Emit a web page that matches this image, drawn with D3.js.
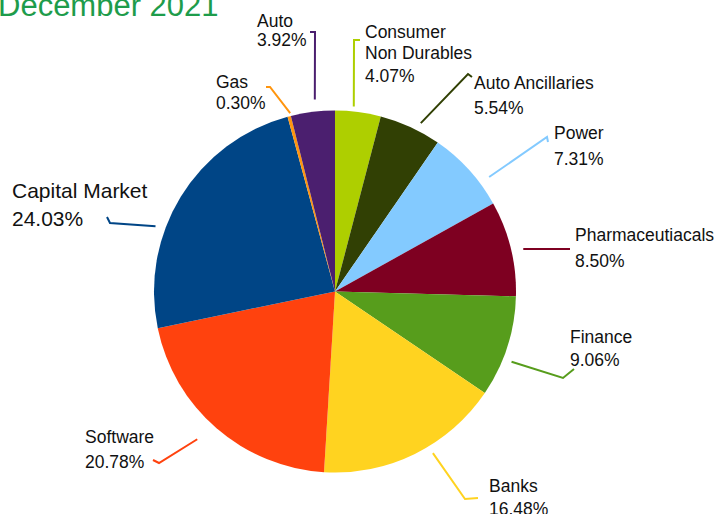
<!DOCTYPE html>
<html>
<head>
<meta charset="utf-8">
<script src="https://cdn.jsdelivr.net/npm/d3@7"></script>
<style>
  html, body { margin: 0; padding: 0; background: #fff; }
  svg { display: block; font-family: "Liberation Sans", Arial, sans-serif; }
</style>
</head>
<body>
<svg id="chart" width="717" height="514"></svg>
<script>
// sector allocation, clockwise from 12 o'clock
const sectors = ['Consumer Non Durables', 'Auto Ancillaries', 'Power', 'Pharmaceutiacals',
  'Finance', 'Banks', 'Software', 'Capital Market', 'Gas', 'Auto'];
const weights = [4.07, 5.54, 7.31, 8.50, 9.06, 16.48, 20.78, 24.03, 0.30, 3.92];
const colors = ['#aecf00', '#314004', '#83caff', '#7e0021', '#579d1c',
  '#ffd320', '#ff420e', '#004586', '#ff950e', '#4b1f6f'];

// label text lines (percent line added from weights)
const labelLines = [
  ['Consumer', 'Non Durables'], ['Auto Ancillaries'], ['Power'], ['Pharmaceutiacals'],
  ['Finance'], ['Banks'], ['Software'], ['Capital Market'], ['Gas'], ['Auto']
];

// hand placed label layout, as in the original slide
// x, baselines, font size; leader: start angle (deg) + gap beyond radius, bend, tick end
const labelLayout = [
  { x: 365, ys: [38, 59, 82], fs: 17.5, a: 5.8, g: 5, bend: [354, 40], tick: [360, 40] },
  { x: 474, ys: [89, 114], fs: 17.5, a: 27, g: 8, bend: [468, 74], tick: [472, 77] },
  { x: 554, ys: [139, 165], fs: 17.5, a: 53.4, g: 11, bend: [547, 137], tick: [548, 142] },
  { x: 575, ys: [241, 267], fs: 17.5, a: 77.3, g: 12, bend: [570, 249], tick: [570, 249] },
  { x: 570, ys: [343, 366], fs: 17.5, a: 111.7, g: 9, bend: [563, 378], tick: [574, 369] },
  { x: 489, ys: [492, 515], fs: 17.5, a: 148.8, g: 8, bend: [465, 499], tick: [478, 498] },
  { x: 85, ys: [443, 468], fs: 17.5, a: 223, g: 21, bend: [159, 463], tick: [153, 460] },
  { x: 12, ys: [198, 226], fs: 21, a: 290, g: 10, bend: [110, 223], tick: [107, 217] },
  { x: 216, ys: [88, 109], fs: 17.5, a: 345.9, g: 3, bend: [270, 87], tick: [266, 87] },
  { x: 257, ys: [27, 46], fs: 17.5, a: 354, g: 12, bend: [315, 32], tick: [310, 32] }
];

const svg = d3.select('#chart');
const cx = 335, cy = 291.5, radius = 181;

// title, partly clipped by the slide crop
svg.append('text')
  .attr('x', -2)
  .attr('y', 16)
  .style('font-size', '31px')
  .style('fill', '#1e9c4b')
  .text('December 2021');

const pie = d3.pie().sort(null).value(d => d);
const arcs = pie(weights);
const arc = d3.arc().innerRadius(0).outerRadius(radius);

const g = svg.append('g').attr('transform', `translate(${cx},${cy})`);

g.selectAll('path.slice')
  .data(arcs)
  .enter().append('path')
  .attr('class', 'slice')
  .attr('d', arc)
  .style('fill', (d, i) => colors[i]);

// leader lines
const leaders = svg.append('g').attr('class', 'leaders');
labelLayout.forEach((l, i) => {
  const ang = l.a * Math.PI / 180;
  const rr = radius + l.g;
  const sx = cx + Math.sin(ang) * rr;
  const sy = cy - Math.cos(ang) * rr;
  leaders.append('path')
    .attr('d', d3.line()([[sx, sy], l.bend, l.tick]))
    .style('fill', 'none')
    .style('stroke', colors[i])
    .style('stroke-width', 2);
});

// labels
const labels = svg.append('g').attr('class', 'labels');
sectors.forEach((s, i) => {
  const l = labelLayout[i];
  const lines = labelLines[i].concat([d3.format('.2f')(weights[i]) + '%']);
  const t = labels.append('text')
    .style('font-size', l.fs + 'px')
    .style('fill', '#111');
  lines.forEach((line, j) => {
    t.append('tspan')
      .attr('x', l.x)
      .attr('y', l.ys[j])
      .text(line);
  });
});
</script>
</body>
</html>
